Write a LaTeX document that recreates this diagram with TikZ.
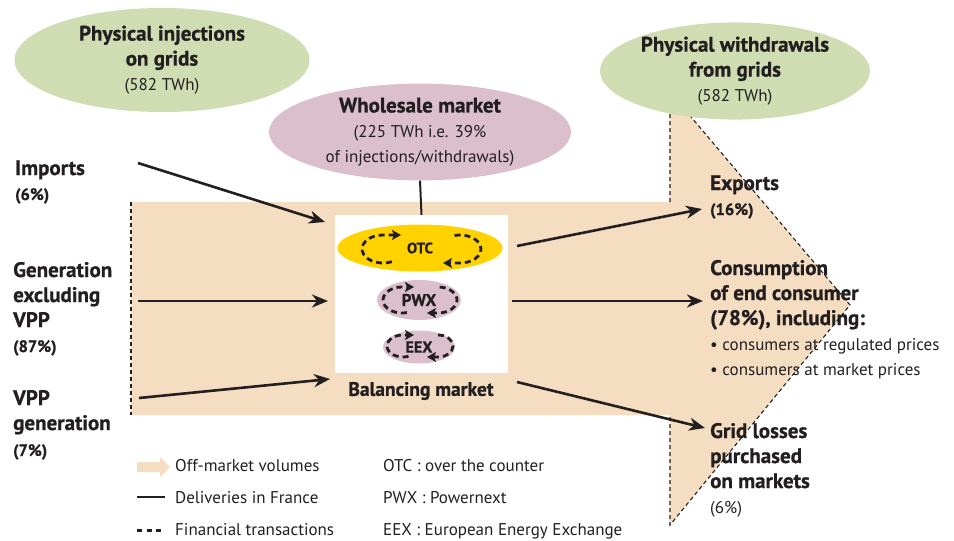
\documentclass[tikz,border=0pt]{standalone}
\usepackage{fontspec}
\setmainfont{PT Sans}[BoldFeatures={FakeBold=0.8}]
\usetikzlibrary{arrows.meta,shapes.geometric}

\definecolor{offmarket}{RGB}{245,221,194}
\definecolor{gridgreen}{RGB}{208,220,178}
\definecolor{marketpink}{RGB}{219,191,204}
\definecolor{otcyellow}{RGB}{255,210,0}
\definecolor{inkblack}{RGB}{35,31,32}

\newcommand\lblfont{\bfseries\fontsize{21}{25}\selectfont}
\newcommand\pctfont{\bfseries\fontsize{16.5}{25}\selectfont}
\newcommand\plainfont{\mdseries\fontsize{17}{25}\selectfont}

\begin{document}
\begin{tikzpicture}[x=1pt,y=-1pt,
  bubble/.style={ellipse, fill=#1, inner sep=0pt, align=center, text=inkblack, font=\plainfont},
  flow/.style={line width=2.6pt, draw=inkblack, -{Stealth[length=16pt,width=13pt,inset=5pt]}},
  finloop/.style={line width=2.8pt, draw=inkblack, dash pattern=on 6pt off 4pt, -{Stealth[length=9pt,width=10pt,inset=2pt]}},
  border/.style={line width=1.1pt, draw=inkblack, dash pattern=on 4pt off 3pt},
  flowlabel/.style={align=left, inner sep=0pt, anchor=base west, text=inkblack, font=\lblfont},
  legend/.style={inner sep=0pt, anchor=base west, text=inkblack, font=\plainfont}
]
\useasboundingbox (0,0) rectangle (954,541);

% off-market volumes
\fill[offmarket] (131,202) -- (670,202) -- (670,92) -- (850,305) -- (670,525) -- (670,415) -- (131,415) -- cycle;
\draw[border] (131,202) -- (131,415);
\draw[border] (670,202) -- (670,92) -- (850,305) -- (670,525) -- (670,415);

% grids and wholesale market
\node[bubble=gridgreen, minimum width=295, minimum height=104] (inject) at (162,60)
  {{\lblfont Physical injections}\\{\lblfont on grids}\\(582 TWh)};
\node[bubble=gridgreen, minimum width=270, minimum height=95] (withdraw) at (735,71)
  {{\lblfont Physical withdrawals}\\{\lblfont from grids}\\(582 TWh)};
\node[bubble=marketpink, minimum width=302, minimum height=94] (wholesale) at (420,132)
  {{\lblfont Wholesale market}\\(225 TWh i.e. 39\%\\of injections/withdrawals)};

% balancing market
\node[fill=white, inner sep=0pt, minimum width=173, minimum height=158] (balbox) at (421.5,294) {};
\draw[line width=2pt, inkblack] (wholesale.south) -- (balbox.north);
\node[bubble=otcyellow, minimum width=165, minimum height=47, font=\bfseries\fontsize{15}{18}\selectfont] (otc) at (420,248) {OTC};
\node[bubble=marketpink, minimum width=84, minimum height=40, font=\bfseries\fontsize{17}{20}\selectfont] (pwx) at (419,300) {PWX};
\node[bubble=marketpink, minimum width=72, minimum height=33, font=\bfseries\fontsize{16}{20}\selectfont] (eex) at (419,347) {EEX};
\node[text=inkblack, font=\bfseries\fontsize{19.5}{22}\selectfont, inner sep=0pt] (balancing) at (421,391) {Balancing market};

% financial transactions
\draw[finloop] (383,249) ++(65:21 and 14) arc[start angle=65, end angle=270, x radius=21, y radius=14] -- ++(18,0);
\draw[finloop] (460,249) ++(255:21 and 14) arc[start angle=255, end angle=450, x radius=21, y radius=14] -- ++(-17,0);
\draw[finloop] (402,300) ++(75:19 and 13) arc[start angle=75, end angle=270, x radius=19, y radius=13] -- ++(12,0);
\draw[finloop] (438,300) ++(275:19 and 13) arc[start angle=275, end angle=450, x radius=19, y radius=13] -- ++(-11,0);
\draw[finloop] (403,346) ++(70:16 and 11) arc[start angle=70, end angle=270, x radius=16, y radius=11] -- ++(11,0);
\draw[finloop] (438,346) ++(270:15 and 11) arc[start angle=270, end angle=450, x radius=15, y radius=11] -- ++(-11,0);

% injections (base = last line)
\node[flowlabel] (imports) at (15,200) {Imports\\{\pctfont (6\%)}};
\node[flowlabel] (generation) at (13,352) {Generation\\excluding\\VPP\\{\pctfont (87\%)}};
\node[flowlabel] (vpp) at (13,456) {VPP\\generation\\[1pt]{\pctfont (7\%)}};

\coordinate (imp-s) at (138,163);
\coordinate (imp-e) at (325,222);
\coordinate (gen-s) at (138,301);
\coordinate (gen-e) at (328,301);
\coordinate (vpp-s) at (139,398);
\coordinate (vpp-e) at (330,379);
\draw[flow] (imp-s) -- (imp-e);
\draw[flow] (gen-s) -- (gen-e);
\draw[flow] (vpp-s) -- (vpp-e);

% withdrawals
\coordinate (exp-s) at (517,246);
\coordinate (exp-e) at (702,209);
\coordinate (con-s) at (512,301);
\coordinate (con-e) at (703,301);
\coordinate (loss-s) at (517,382);
\coordinate (loss-e) at (705,428);
\draw[flow] (exp-s) -- (exp-e);
\draw[flow] (con-s) -- (con-e);
\draw[flow] (loss-s) -- (loss-e);

\node[flowlabel] (exports) at (710,215) {Exports\\{\pctfont (16\%)}};
\node[flowlabel] (consumption) at (710,375)
  {Consumption\\of end consumer\\(78\%), including:\\{\plainfont\textbullet{} consumers at regulated prices}\\{\plainfont\textbullet{} consumers at market prices}};
\node[flowlabel] (losses) at (710,513) {Grid losses\\purchased\\on markets\\{\plainfont (6\%)}};

% legend
\fill[offmarket] (137,462) -- (160,462) -- (160,457) -- (170,467) -- (160,477) -- (160,472) -- (137,472) -- cycle;
\draw[line width=2.6pt, inkblack] (137,497) -- (165,497);
\draw[line width=3pt, inkblack, dash pattern=on 5pt off 4.5pt] (137,530) -- (161,530);
\node[legend] (leg-off) at (175,471) {Off-market volumes};
\node[legend] (leg-del) at (175,503) {Deliveries in France};
\node[legend] (leg-fin) at (175,535) {Financial transactions};
\node[legend] (leg-otc) at (383,471) {OTC : over the counter};
\node[legend] (leg-pwx) at (383,503) {PWX : Powernext};
\node[legend] (leg-eex) at (383,535) {EEX : European Energy Exchange};
\end{tikzpicture}
\end{document}
